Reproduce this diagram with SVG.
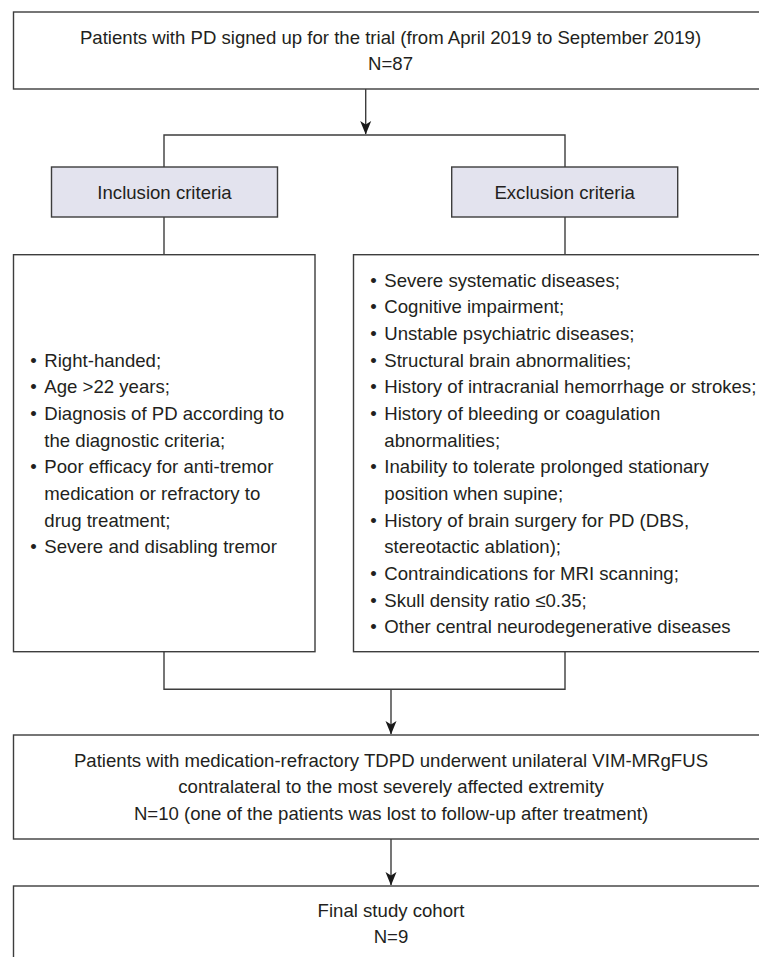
<svg xmlns="http://www.w3.org/2000/svg" width="759" height="957" viewBox="0 0 759 957">
<defs>
<style>
.box{fill:#ffffff;stroke:#3d3d3d;stroke-width:1.4}
.hdr{fill:#e3e3ee;stroke:#3d3d3d;stroke-width:1.4}
.ln{fill:none;stroke:#3d3d3d;stroke-width:1.4}
text{font-family:"Liberation Sans",Arial,Helvetica,sans-serif;font-size:18.6px;fill:#231f20}
.c{text-anchor:middle}
.b{text-anchor:middle}
</style>
<marker id="arr" markerWidth="12" markerHeight="14" refX="6" refY="13" orient="auto" markerUnits="userSpaceOnUse" viewBox="0 0 12 14">
<path d="M0.5,0 L6,3 L11.5,0 L6,14 Z" fill="#1a1a1a" transform="rotate(0)"/>
</marker>
</defs>
<rect width="759" height="957" fill="#ffffff"/>
<g id="connectors">
<line class="ln" x1="365.7" y1="89" x2="365.7" y2="134"/>
<path d="M360.2,121 L365.7,124.5 L371.2,121 L365.7,134.5 Z" fill="#1a1a1a"/>
<polyline class="ln" points="164,167 164,135 565,135 565,167"/>
<line class="ln" x1="164" y1="217" x2="164" y2="254.7"/>
<line class="ln" x1="565" y1="217" x2="565" y2="254.7"/>
<polyline class="ln" points="164,651.7 164,689.3 565,689.3 565,651.7"/>
<line class="ln" x1="391" y1="689.3" x2="391" y2="734"/>
<path d="M385.5,721 L391,724.5 L396.5,721 L391,734.5 Z" fill="#1a1a1a"/>
<line class="ln" x1="391" y1="839" x2="391" y2="885"/>
<path d="M385.5,872 L391,875.5 L396.5,872 L391,885.5 Z" fill="#1a1a1a"/>
</g>
<g id="n_enrolled">
<rect class="box" x="13.5" y="12" width="760" height="77"/>
<text class="c" x="390.5" y="44">Patients with PD signed up for the trial (from April 2019 to September 2019)</text>
<text class="c" x="390.5" y="70">N=87</text>
</g>
<g id="n_inclusion_hdr">
<rect class="hdr" x="51.5" y="167" width="226" height="50"/>
<text class="c" x="164.5" y="199">Inclusion criteria</text>
</g>
<g id="n_exclusion_hdr">
<rect class="hdr" x="451.7" y="167" width="226" height="50"/>
<text class="c" x="564.7" y="199">Exclusion criteria</text>
</g>
<g id="n_inclusion">
<rect class="box" x="13.5" y="254.7" width="301.5" height="397"/>
<text class="b" x="33.5" y="366.7">•</text><text x="44.3" y="366.7">Right-handed;</text>
<text class="b" x="33.5" y="393.3">•</text><text x="44.3" y="393.3">Age &gt;22 years;</text>
<text class="b" x="33.5" y="420">•</text><text x="44.3" y="420">Diagnosis of PD according to</text>
<text x="44.3" y="446.7">the diagnostic criteria;</text>
<text class="b" x="33.5" y="473.3">•</text><text x="44.3" y="473.3">Poor efficacy for anti-tremor</text>
<text x="44.3" y="500">medication or refractory to</text>
<text x="44.3" y="526.7">drug treatment;</text>
<text class="b" x="33.5" y="553.3">•</text><text x="44.3" y="553.3">Severe and disabling tremor</text>
</g>
<g id="n_exclusion">
<rect class="box" x="353.5" y="254.7" width="420" height="397"/>
<text class="b" x="373.5" y="286.7">•</text><text x="384.3" y="286.7">Severe systematic diseases;</text>
<text class="b" x="373.5" y="313.3">•</text><text x="384.3" y="313.3">Cognitive impairment;</text>
<text class="b" x="373.5" y="340">•</text><text x="384.3" y="340">Unstable psychiatric diseases;</text>
<text class="b" x="373.5" y="366.7">•</text><text x="384.3" y="366.7">Structural brain abnormalities;</text>
<text class="b" x="373.5" y="393.3">•</text><text x="384.3" y="393.3">History of intracranial hemorrhage or strokes;</text>
<text class="b" x="373.5" y="420">•</text><text x="384.3" y="420">History of bleeding or coagulation</text>
<text x="384.3" y="446.7">abnormalities;</text>
<text class="b" x="373.5" y="473.3">•</text><text x="384.3" y="473.3">Inability to tolerate prolonged stationary</text>
<text x="384.3" y="500">position when supine;</text>
<text class="b" x="373.5" y="526.7">•</text><text x="384.3" y="526.7">History of brain surgery for PD (DBS,</text>
<text x="384.3" y="553.3">stereotactic ablation);</text>
<text class="b" x="373.5" y="580">•</text><text x="384.3" y="580">Contraindications for MRI scanning;</text>
<text class="b" x="373.5" y="606.7">•</text><text x="384.3" y="606.7">Skull density ratio ≤0.35;</text>
<text class="b" x="373.5" y="633.3">•</text><text x="384.3" y="633.3">Other central neurodegenerative diseases</text>
</g>
<g id="n_treated">
<rect class="box" x="13.5" y="735" width="760" height="104"/>
<text class="c" x="391" y="766.7">Patients with medication-refractory TDPD underwent unilateral VIM-MRgFUS</text>
<text class="c" x="391" y="793.3">contralateral to the most severely affected extremity</text>
<text class="c" x="391" y="820">N=10 (one of the patients was lost to follow-up after treatment)</text>
</g>
<g id="n_final">
<rect class="box" x="13.5" y="886" width="760" height="100"/>
<text class="c" x="391" y="917">Final study cohort</text>
<text class="c" x="391" y="943">N=9</text>
</g>
</svg>
